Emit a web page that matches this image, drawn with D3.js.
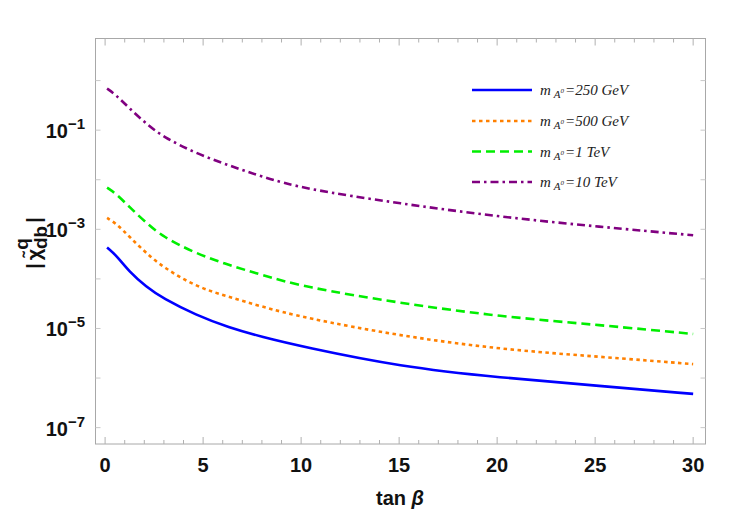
<!DOCTYPE html>
<html>
<head>
<meta charset="utf-8">
<script src="https://cdn.jsdelivr.net/npm/d3@7"></script>
<style>
  body { margin: 0; background: #fff; }
  svg { display: block; }
  .tick-lbl { font-family: "Liberation Sans", Arial, sans-serif; font-weight: bold; font-size: 20px; fill: #111; }
  .leg { font-family: "Liberation Serif", "Times New Roman", serif; font-style: italic; fill: #222; }
</style>
</head>
<body>
<div id="chart"></div>
<script>
// tan(beta) sample points
const tanBeta = [0.1, 0.56, 1.24, 2.1, 2.94, 4.64, 6.3, 8.0, 10.1, 15.05, 20.15, 25.26, 30];

// |chi_db^q| for each m_A0
const chi250 = [4.32e-4, 3.02e-4, 1.38e-4, 6.92e-5, 4.07e-5, 1.86e-5, 1.05e-5, 6.76e-6, 4.27e-6, 1.70e-6, 1.02e-6, 6.92e-7, 4.79e-7];
const chi500 = [1.70e-3, 1.32e-3, 7.08e-4, 3.31e-4, 1.74e-4, 6.92e-5, 4.37e-5, 2.75e-5, 1.66e-5, 7.08e-6, 3.80e-6, 2.69e-6, 1.91e-6];
const chi1T  = [6.92e-3, 5.25e-3, 2.82e-3, 1.35e-3, 7.08e-4, 3.24e-4, 1.91e-4, 1.20e-4, 6.92e-5, 3.24e-5, 1.74e-5, 1.17e-5, 7.76e-6];
const chi10T = [0.692, 0.513, 0.275, 0.135, 0.0741, 0.0339, 0.0195, 0.0115, 0.0066, 0.00331, 0.00178, 0.00112, 0.000759];

const legendLabels = ["=250 GeV", "=500 GeV", "=1 TeV", "=10 TeV"];
const xTicks = [0, 5, 10, 15, 20, 25, 30];
const yExponents = [0, -1, -2, -3, -4, -5, -6, -7];

const W = 750, H = 519;
const plotL = 95.5, plotR = 705.5, plotT = 38.5, plotB = 444;

const x = d3.scaleLinear().domain([-0.49, 30.63]).range([plotL, plotR]);
const y = d3.scaleLog().domain([Math.pow(10, -7.33), Math.pow(10, 0.849)]).range([plotB, plotT]);

const svg = d3.select("#chart").append("svg")
    .attr("width", W).attr("height", H);

// frame
svg.append("rect")
    .attr("x", plotL).attr("y", plotT)
    .attr("width", plotR - plotL).attr("height", plotB - plotT)
    .attr("fill", "none").attr("stroke", "#a8a8a8").attr("stroke-width", 1);

// x ticks (bottom and top), major every 5, minor every 1
const xMinor = d3.range(0, 31);
const tickColor = "#b0b0b0";
svg.append("g").selectAll("line").data(xMinor).join("line")
    .attr("x1", d => x(d)).attr("x2", d => x(d))
    .attr("y1", plotB).attr("y2", d => plotB - (d % 5 === 0 ? 7 : 4))
    .attr("stroke", tickColor);
svg.append("g").selectAll("line").data(xMinor).join("line")
    .attr("x1", d => x(d)).attr("x2", d => x(d))
    .attr("y1", plotT).attr("y2", d => plotT + (d % 5 === 0 ? 7 : 4))
    .attr("stroke", tickColor);

// y ticks both sides
svg.append("g").selectAll("line").data(yExponents).join("line")
    .attr("x1", plotL).attr("x2", plotL + 5)
    .attr("y1", d => y(Math.pow(10, d))).attr("y2", d => y(Math.pow(10, d)))
    .attr("stroke", "#c8c8c8");
svg.append("g").selectAll("line").data(yExponents).join("line")
    .attr("x1", plotR).attr("x2", plotR - 5)
    .attr("y1", d => y(Math.pow(10, d))).attr("y2", d => y(Math.pow(10, d)))
    .attr("stroke", "#c8c8c8");

// x tick labels
svg.append("g").selectAll("text").data(xTicks).join("text")
    .attr("class", "tick-lbl")
    .attr("x", d => x(d)).attr("y", 472)
    .attr("text-anchor", "middle")
    .text(d => d);

// y tick labels at odd exponents
const ylab = svg.append("g").selectAll("text").data(yExponents.filter(d => d % 2 !== 0)).join("text")
    .attr("class", "tick-lbl")
    .attr("x", 85).attr("y", d => y(Math.pow(10, d)) + 8)
    .attr("text-anchor", "end").attr("font-size", 21);
ylab.append("tspan").text("10");
ylab.append("tspan").attr("dy", -9).attr("font-size", 15).text(d => "\u2212" + (-d));

// axis titles
const xt = svg.append("text").attr("class", "tick-lbl")
    .attr("x", 400).attr("y", 505).attr("text-anchor", "middle");
xt.append("tspan").text("tan ");
xt.append("tspan").attr("font-style", "italic").text("\u03b2");

const yt = svg.append("text").attr("class", "tick-lbl")
    .attr("transform", "translate(41,243) rotate(-90)")
    .attr("text-anchor", "middle").attr("font-size", 28);
yt.append("tspan").text("|");
yt.append("tspan").attr("dx", 3).text("\u03c7\u0303");
yt.append("tspan").attr("dy", -13).attr("dx", -1).attr("font-size", 19).text("q");
yt.append("tspan").attr("dy", 19).attr("dx", -11).attr("font-size", 19).text("db");
yt.append("tspan").attr("dy", -6).attr("dx", 3).text("|");

// curves
const series = [
  { vals: chi250, color: "#0000ff", dash: null },
  { vals: chi500, color: "#ff8000", dash: "3.5,3.5" },
  { vals: chi1T,  color: "#00ee00", dash: "9,5" },
  { vals: chi10T, color: "#800080", dash: "8,4,2.5,4" }
];

const line = d3.line()
    .x(d => x(d[0])).y(d => y(d[1]))
    .curve(d3.curveBasis);

svg.append("g").selectAll("path").data(series).join("path")
    .attr("d", s => line(tanBeta.map((t, i) => [t, s.vals[i]])))
    .attr("fill", "none")
    .attr("stroke", s => s.color)
    .attr("stroke-width", 2.6)
    .attr("stroke-dasharray", s => s.dash);

// legend
const legY = [90, 121, 151.5, 182];
const leg = svg.append("g").selectAll("g").data(series).join("g")
    .attr("transform", (s, i) => `translate(0,${legY[i]})`);
leg.append("line")
    .attr("x1", 472).attr("x2", 532).attr("y1", 0).attr("y2", 0)
    .attr("stroke", s => s.color).attr("stroke-width", 2.6)
    .attr("stroke-dasharray", s => s.dash);
const lt = leg.append("text").attr("class", "leg").attr("x", 540).attr("y", 5).attr("font-size", 15);
lt.append("tspan").text("m");
lt.append("tspan").attr("dx", 3).attr("dy", 3).attr("font-size", 11).text("A");
lt.append("tspan").attr("dy", -5).attr("font-size", 7).text("0");
lt.append("tspan").attr("dy", 2).attr("dx", 1).text((s, i) => legendLabels[i]);
</script>
</body>
</html>
